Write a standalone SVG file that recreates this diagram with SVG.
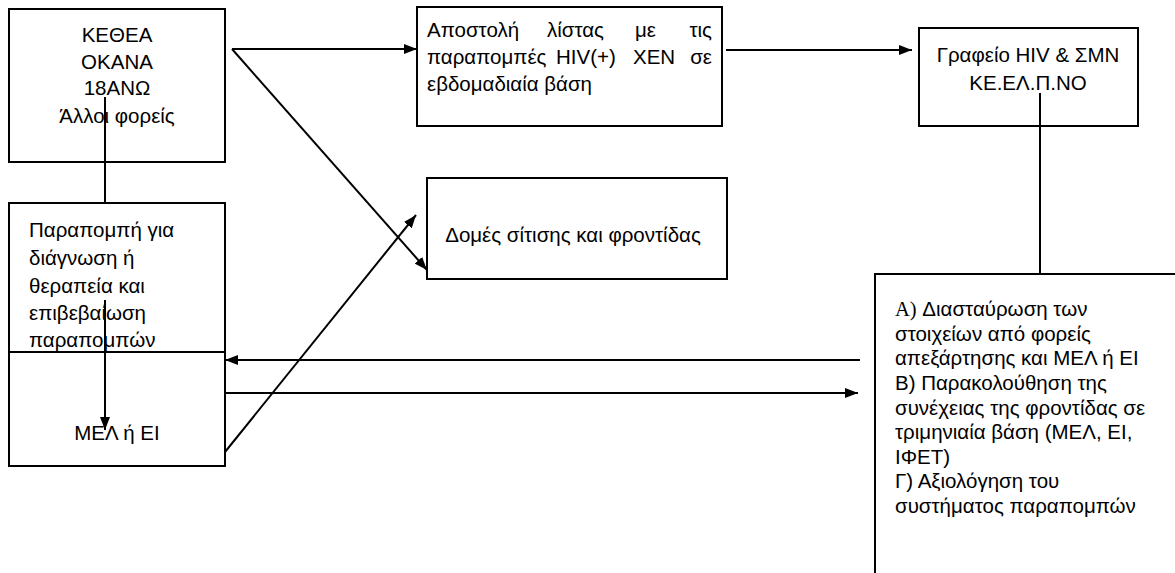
<svg xmlns="http://www.w3.org/2000/svg" width="1175" height="573" viewBox="0 0 1175 573">
<style>
.box{fill:#fff;stroke:#000;stroke-width:2}
.t{font-family:"Liberation Sans",Arial,sans-serif;font-size:20.5px;fill:#000}
.c{text-anchor:middle}
.e{text-anchor:end}
.ln{stroke:#000;stroke-width:2;fill:none}
</style>
<defs>
<marker id="ah" viewBox="0 0 13 10" refX="13" refY="5" markerWidth="13" markerHeight="10" markerUnits="userSpaceOnUse" orient="auto">
<path d="M0,0 L13,5 L0,10 Z" fill="#000"/>
</marker>
</defs>
<rect width="1175" height="573" fill="#fff"/>
<g id="n1">
<rect class="box" x="9" y="9" width="216" height="153"/>
<text class="t c" x="117" y="42">ΚΕΘΕΑ</text>
<text class="t c" x="117" y="69">ΟΚΑΝΑ</text>
<text class="t c" x="117" y="95">18ΑΝΩ</text>
<text class="t c" x="117" y="123">Άλλοι φορείς</text>
</g>
<g id="n2">
<rect class="box" x="9" y="203" width="216" height="263"/>
<line class="ln" x1="9" y1="352" x2="225" y2="352"/>
<text class="t" x="29" y="237">Παραπομπή για</text>
<text class="t" x="29" y="265">διάγνωση ή</text>
<text class="t" x="29" y="293">θεραπεία και</text>
<text class="t" x="29" y="320">επιβεβαίωση</text>
<text class="t" x="29" y="347">παραπομπών</text>
<text class="t c" x="117" y="440">ΜΕΛ ή ΕΙ</text>
</g>
<g id="n3">
<rect class="box" x="417" y="7" width="305" height="119"/>
<text class="t" y="37"><tspan x="427">Αποστολή</tspan><tspan x="547">λίστας</tspan><tspan x="635">με</tspan><tspan x="712" text-anchor="end">τις</tspan></text>
<text class="t" y="64"><tspan x="427">παραπομπές</tspan><tspan x="556">HIV(+)</tspan><tspan x="633">ΧΕΝ</tspan><tspan x="712" text-anchor="end">σε</tspan></text>
<text class="t" x="427" y="91">εβδομαδιαία βάση</text>
</g>
<g id="n4">
<rect class="box" x="427" y="178" width="300" height="101"/>
<text class="t c" x="573" y="242">Δομές σίτισης και φροντίδας</text>
</g>
<g id="n5">
<rect class="box" x="919" y="28" width="219" height="98"/>
<text class="t c" x="1028" y="62">Γραφείο HIV &amp; ΣΜΝ</text>
<text class="t c" x="1028" y="90">ΚΕ.ΕΛ.Π.ΝΟ</text>
</g>
<g id="n6">
<rect class="box" x="875" y="274" width="320" height="320"/>
<text class="t" x="895" y="316"><tspan font-family="Liberation Serif, serif">A)</tspan> Διασταύρωση των</text>
<text class="t" x="895" y="341">στοιχείων από φορείς</text>
<text class="t" x="895" y="365">απεξάρτησης και ΜΕΛ ή ΕΙ</text>
<text class="t" x="895" y="390">Β) Παρακολούθηση της</text>
<text class="t" x="895" y="415">συνέχειας της φροντίδας σε</text>
<text class="t" x="895" y="439">τριμηνιαία βάση (ΜΕΛ, ΕΙ,</text>
<text class="t" x="895" y="464">ΙΦΕΤ)</text>
<text class="t" x="895" y="488">Γ) Αξιολόγηση του</text>
<text class="t" x="895" y="513">συστήματος παραπομπών</text>
</g>
<g id="connectors">
<line class="ln" x1="232" y1="49" x2="417" y2="49" marker-end="url(#ah)"/>
<line class="ln" x1="232" y1="49" x2="427" y2="270" marker-end="url(#ah)"/>
<line class="ln" x1="726" y1="50" x2="912" y2="50" marker-end="url(#ah)"/>
<line class="ln" x1="1040" y1="93" x2="1040" y2="274"/>
<line class="ln" x1="105" y1="97" x2="105" y2="203"/>
<line class="ln" x1="105" y1="300" x2="105" y2="430" marker-end="url(#ah)"/>
<line class="ln" x1="860" y1="360" x2="225" y2="360" marker-end="url(#ah)"/>
<line class="ln" x1="225" y1="393" x2="858" y2="393" marker-end="url(#ah)"/>
<line class="ln" x1="225" y1="452" x2="416" y2="215" marker-end="url(#ah)"/>
</g>
</svg>
